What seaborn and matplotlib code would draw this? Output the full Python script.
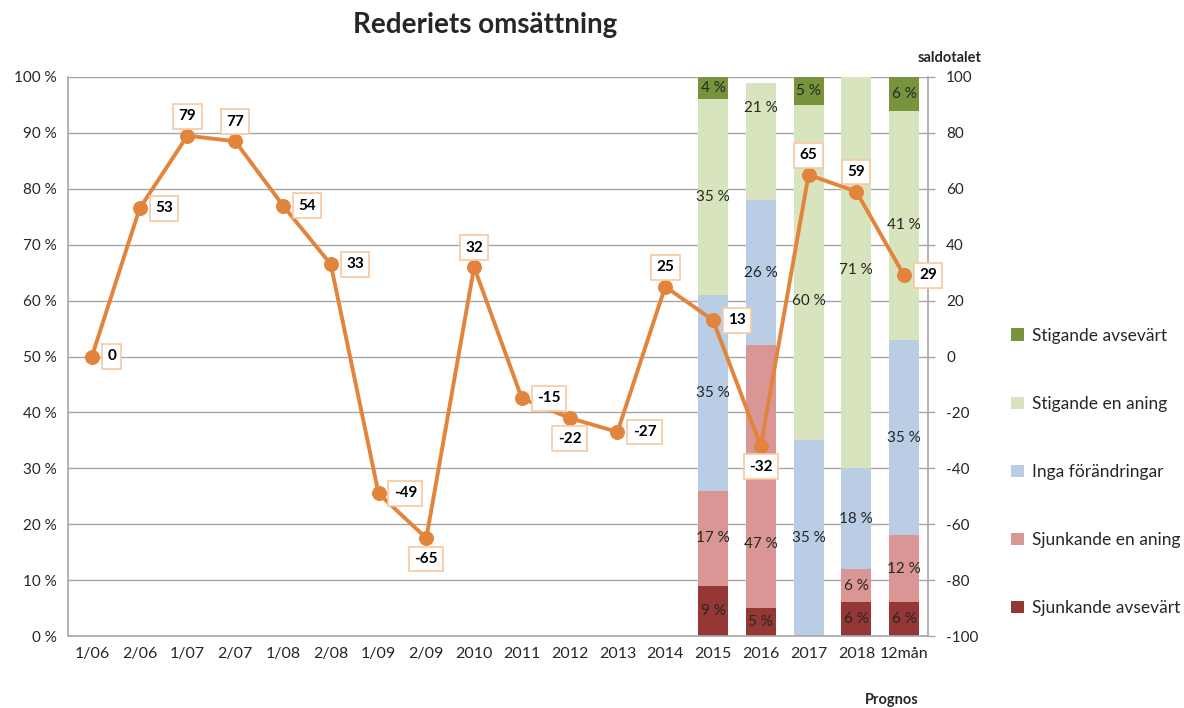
import numpy as np
import matplotlib
matplotlib.use("Agg")
import matplotlib.pyplot as plt
import seaborn as sns
from matplotlib.patches import Patch

# --- data -------------------------------------------------------------
periods = ["1/06", "2/06", "1/07", "2/07", "1/08", "2/08", "1/09", "2/09",
           "2010", "2011", "2012", "2013", "2014", "2015", "2016", "2017",
           "2018", "12mån"]
saldotal = [0, 53, 79, 77, 54, 33, -49, -65, 32, -15, -22, -27, 25, 13,
            -32, 65, 59, 29]

survey_years = ["2015", "2016", "2017", "2018", "12mån"]
sjunkande_avsevart = [9, 5, 0, 6, 6]
sjunkande_en_aning = [17, 47, 0, 6, 12]
inga_forandringar = [35, 26, 35, 18, 35]
stigande_en_aning = [35, 21, 60, 71, 41]
stigande_avsevart = [4, 0, 5, 0, 6]

layer_names = ["Sjunkande avsevärt", "Sjunkande en aning", "Inga förändringar",
               "Stigande en aning", "Stigande avsevärt"]
layer_values = [sjunkande_avsevart, sjunkande_en_aning, inga_forandringar,
                stigande_en_aning, stigande_avsevart]

# --- styling ----------------------------------------------------------
layer_colors = ["#953735", "#D99694", "#B9CDE5", "#D7E4BD", "#77933C"]
line_color = "#E2843C"
box_edge = "#F9C8A0"
grid_color = "#A6A6A6"

# where each saldotal label sits relative to its point
label_side = ["r", "r", "u", "u", "r", "r", "r", "d", "u", "r", "d", "r",
              "u", "r", "d", "u", "u", "r"]
# manual vertical placement (in %) for a few segment labels
label_y_override = {("2016", 3): 94.5, ("2017", 3): 60.0, ("2016", 1): 16.5}

sns.set_theme(style="white")
plt.rcParams["font.family"] = ["Lato", "DejaVu Sans"]
plt.rcParams["axes.unicode_minus"] = False

fig = plt.figure(figsize=(11.84, 7.08), dpi=100)
ax = fig.add_axes([68 / 1184, 1 - 636 / 708, 860 / 1184, 559 / 708])

# stacked bars: draw cumulative totals from the top layer down
cums = np.cumsum(np.array(layer_values), axis=0)
for i in range(len(layer_values) - 1, -1, -1):
    sns.barplot(x=survey_years, y=cums[i], order=periods, color=layer_colors[i],
                saturation=1, width=0.63, ax=ax, linewidth=0, zorder=2)

# percentage labels inside the segments
for j, yr in enumerate(survey_years):
    xpos = periods.index(yr)
    bottom = 0
    for i, vals in enumerate(layer_values):
        v = vals[j]
        if v > 0:
            ypos = label_y_override.get((yr, i), bottom + v / 2)
            ax.text(xpos, ypos, f"{v} %", ha="center", va="center",
                    fontsize=11, color="#262626", zorder=3)
        bottom += v

ax.set_ylim(0, 100)
ax.set_xlim(-0.5, len(periods) - 0.5)
ax.set_yticks(np.arange(0, 101, 10))
ax.set_yticklabels([f"{v} %" for v in range(0, 101, 10)], fontsize=11)
ax.yaxis.grid(True, color=grid_color, linewidth=1)
ax.xaxis.grid(False)
ax.set_axisbelow(True)
ax.set_xlabel("")
ax.set_ylabel("")
ax.set_xticks(range(len(periods)))
ax.set_xticklabels(periods, fontsize=11.5)
ax.tick_params(axis="both", length=0, pad=8, colors="#262626")
for side in ["left", "bottom"]:
    ax.spines[side].set_color(grid_color)
    ax.spines[side].set_linewidth(1.2)
ax.spines["top"].set_visible(False)
ax.spines["right"].set_visible(False)

# saldotal line on the secondary axis
ax2 = ax.twinx()
sns.lineplot(x=np.arange(len(periods)), y=saldotal, ax=ax2, color=line_color,
             linewidth=2.8, marker="o", markersize=10, markeredgecolor=line_color,
             zorder=4)
ax2.set_ylim(-100, 100)
ax2.set_yticks(np.arange(-100, 101, 20))
ax2.set_yticklabels([str(v) for v in range(-100, 101, 20)], fontsize=11)
ax2.tick_params(axis="y", length=5, width=1, color=grid_color, pad=8,
                labelcolor="#262626")
ax2.set_ylabel("")
ax2.spines["right"].set_color(grid_color)
ax2.spines["right"].set_linewidth(1.2)
for side in ["left", "top", "bottom"]:
    ax2.spines[side].set_visible(False)
ax.set_xlim(-0.5, len(periods) - 0.5)

offsets = {"r": ((11, 0), "left", "center"),
           "u": ((0, 14), "center", "center"),
           "d": ((0, -15), "center", "center")}
for k, v in enumerate(saldotal):
    (dx, dy), ha, va = offsets[label_side[k]]
    ax2.annotate(str(v), (k, v), xytext=(dx, dy), textcoords="offset points",
                 ha=ha, va=va, fontsize=11, fontweight="bold", color="black",
                 bbox=dict(boxstyle="square,pad=0.35", fc="white",
                           ec=box_edge, lw=1.2), zorder=5)

# titles and axis captions
fig.text(485 / 1184, 1 - 25 / 708, "Rederiets omsättning", ha="center",
         va="center", fontsize=20, fontweight="bold")
fig.text(950 / 1184, 1 - 58 / 708, "saldotalet", ha="center", va="center",
         fontsize=10.5, fontweight="bold")
fig.text(892 / 1184, 1 - 700 / 708, "Prognos", ha="center", va="center",
         fontsize=10.5, fontweight="bold")

# legend
handles = [Patch(facecolor=c, edgecolor="none") for c in layer_colors][::-1]
fig.legend(handles, layer_names[::-1], loc="center left",
           bbox_to_anchor=(995 / 1184, 1 - 472 / 708), frameon=False,
           handlelength=0.75, handleheight=0.75, handletextpad=0.5,
           labelspacing=3.0, fontsize=12.5)

fig.savefig("out.png", dpi=100)
